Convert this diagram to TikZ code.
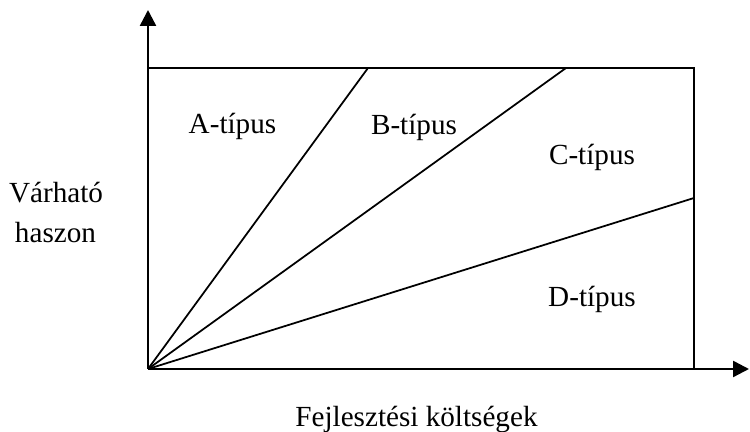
\documentclass[tikz,border=0pt]{standalone}
\usepackage{fontspec}
\setmainfont{Liberation Serif}
\usetikzlibrary{arrows.meta}
\begin{document}
\begin{tikzpicture}[>={Triangle[length=0.32cm,width=0.32cm]},
  every node/.style={font=\fontsize{16.6}{20}\selectfont, anchor=base, inner sep=0pt},
  axis/.style={line width=1.4pt},
  frame/.style={line width=1.2pt},
  ray/.style={line width=1pt}]
  \useasboundingbox (-2.96,-1.26) rectangle (12.04,7.38);
  \coordinate (O) at (0,0);
  % tengelyek
  \draw[axis,->] (O) -- (0,7.18);
  \draw[axis,->] (O) -- (12.02,0);
  % keret
  \draw[frame] (0,6.02) -- (10.92,6.02) -- (10.92,0);
  % sugarak
  \coordinate (Ae) at (4.4,6.02);
  \coordinate (Be) at (8.36,6.02);
  \coordinate (Ce) at (10.92,3.42);
  \draw[ray] (O) -- (Ae);
  \draw[ray] (O) -- (Be);
  \draw[ray] (O) -- (Ce);
  % tartomanyok
  \node (A) at (1.69,4.7) {A-típus};
  \node (B) at (5.32,4.69) {B-típus};
  \node (C) at (8.88,4.08) {C-típus};
  \node (D) at (8.88,1.25) {D-típus};
  % feliratok
  \node (ylab1) at (-1.84,3.32) {Várható};
  \node (ylab2) at (-1.85,2.52) {haszon};
  \node (xlab) at (5.37,-1.16) {Fejlesztési költségek};
\end{tikzpicture}
\end{document}
